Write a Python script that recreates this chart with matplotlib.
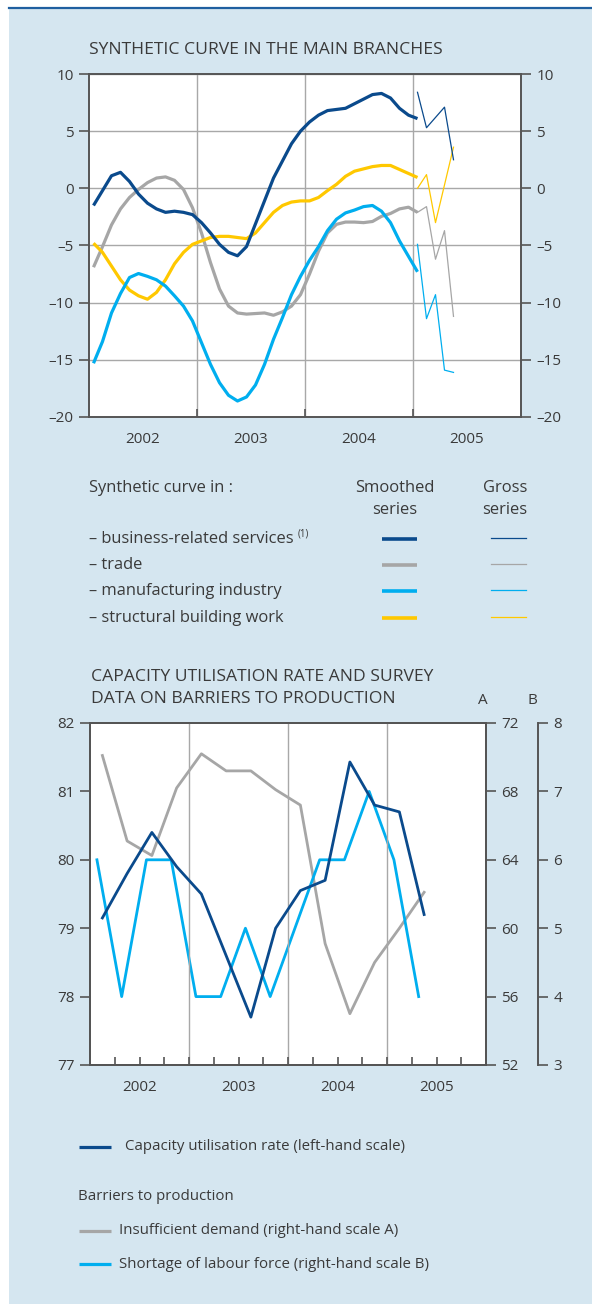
import numpy as np
import matplotlib.pyplot as plt
from matplotlib.lines import Line2D
from matplotlib.patches import Rectangle

plt.rcParams['font.family'] = ['Open Sans', 'DejaVu Sans']

W, H = 592, 1304
TXT = '#3a3a3a'
SPINE = '#555555'
GRID = '#a8a8a8'
BG = '#d5e6f0'
DARK = '#0a4a8c'
GREY = '#a6a6a6'
LIGHT = '#00aeef'
YELLOW = '#ffc800'

# --- synthetic curves, monthly, Jan 2002 - Jan 2005 (smoothed) ---
services = [-1.5, -0.2, 1.1, 1.4, 0.6, -0.5, -1.3, -1.8, -2.1, -2.0, -2.1, -2.3,
            -3.0, -3.9, -4.9, -5.6, -5.9, -5.1, -3.1, -1.1, 0.9, 2.4, 3.9, 5.0,
            5.8, 6.4, 6.8, 6.9, 7.0, 7.4, 7.8, 8.2, 8.3, 7.9, 7.0, 6.4, 6.1]
trade = [-6.9, -5.1, -3.2, -1.8, -0.8, -0.1, 0.5, 0.9, 1.0, 0.7, -0.1, -1.7,
         -3.9, -6.5, -8.8, -10.3, -10.9, -11.0, -10.95, -10.9, -11.1, -10.8, -10.3, -9.3,
         -7.5, -5.5, -3.9, -3.15, -2.95, -2.95, -3.0, -2.9, -2.45, -2.2, -1.8, -1.65, -2.1]
manufacturing = [-15.3, -13.4, -10.9, -9.2, -7.8, -7.45, -7.7, -8.0, -8.55, -9.4, -10.3, -11.6,
                 -13.5, -15.4, -17.0, -18.1, -18.6, -18.25, -17.2, -15.4, -13.2, -11.3, -9.3, -7.7,
                 -6.3, -5.1, -3.7, -2.7, -2.15, -1.9, -1.6, -1.5, -2.0, -3.0, -4.6, -5.95, -7.3]
building = [-4.8, -5.6, -6.8, -8.0, -8.9, -9.4, -9.7, -9.1, -8.0, -6.6, -5.6, -4.9,
            -4.6, -4.3, -4.2, -4.2, -4.3, -4.4, -3.9, -3.0, -2.1, -1.5, -1.2, -1.1,
            -1.1, -0.8, -0.2, 0.35, 1.05, 1.5, 1.7, 1.9, 2.0, 2.0, 1.65, 1.3, 0.95]

# gross series, Jan - May 2005
services_gross = [8.4, 5.3, 6.2, 7.1, 2.5]
trade_gross = [-2.1, -1.6, -6.2, -3.7, -11.2]
manufacturing_gross = [-4.9, -11.4, -9.3, -15.9, -16.1]
building_gross = [0.0, 1.2, -3.0, 0.3, 3.6]

years = [2002, 2003, 2004, 2005]

# --- capacity utilisation & barriers, quarterly Q1 2002 - Q2 2005 ---
capacity = [79.15, 79.8, 80.4, 79.9, 79.5, 78.6, 77.7, 79.0, 79.55, 79.7, 81.43, 80.8, 80.7, 79.2]
demand = [70.1, 65.1, 64.25, 68.2, 70.2, 69.2, 69.2, 68.1, 67.2, 59.1, 55.0, 58.0, 60.0, 62.1]
labour = [6, 4, 6, 6, 4, 4, 5, 4, 5, 6, 6, 7, 6, 4]

series_names = ['– business-related services', '– trade', '– manufacturing industry',
                '– structural building work']

FS_TICK = 11
FS_TITLE = 12.6
FS_LEG = 11.9
FS_LEG2 = 10.8


def fx(px):
    return px / W


def fy(py):
    return 1 - py / H


def dash(v):
    return str(v).replace('-', '\u2013')


fig = plt.figure(figsize=(W / 100, H / 100), dpi=100)
fig.patch.set_facecolor('white')
fig.add_artist(Rectangle((fx(9), 0), 1 - fx(9), fy(8), transform=fig.transFigure,
                         facecolor=BG, edgecolor='none', zorder=-10))
fig.add_artist(Line2D([fx(9), 1], [fy(8), fy(8)], transform=fig.transFigure,
                      color='#1f5fa0', lw=1.6))

# ================= top chart =================
ax = fig.add_axes([fx(89), fy(417), fx(521) - fx(89), (417 - 74) / H])
ax.set_facecolor('white')
xm = 2002 + (np.arange(len(services)) + 0.5) / 12
xg = 2005 + (np.arange(len(services_gross)) + 0.5) / 12

for vals, gross, col in [(trade, trade_gross, GREY), (building, building_gross, YELLOW),
                         (manufacturing, manufacturing_gross, LIGHT),
                         (services, services_gross, DARK)]:
    ax.plot(xm, vals, color=col, lw=2.3, solid_capstyle='butt', zorder=3)
    ax.plot(xg, gross, color=col, lw=0.9, zorder=3)

ax.set_xlim(2002, 2006)
ax.set_ylim(-20, 10)
ax.set_yticks(range(-20, 11, 5))
ax.set_yticklabels([dash(v) for v in range(-20, 11, 5)])
ax.set_xticks([2003, 2004, 2005])
ax.set_xticklabels([])
ax.set_xticks([y + 0.5 for y in years], [str(y) for y in years], minor=True)
ax.grid(True, which='major', color=GRID, lw=1.0, zorder=1)
ax.tick_params(axis='x', which='major', direction='in', length=6, color=SPINE, width=1.2)
ax.tick_params(axis='x', which='minor', length=0, pad=11, labelsize=FS_TICK, labelcolor=TXT)
ax.tick_params(axis='y', direction='out', length=7, width=1.2, color=SPINE,
               right=True, labelright=True, labelsize=FS_TICK, labelcolor=TXT, pad=4)
for s in ax.spines.values():
    s.set_color(SPINE)
    s.set_linewidth(1.4)

fig.text(fx(89), fy(50), 'SYNTHETIC CURVE IN THE MAIN BRANCHES', fontsize=FS_TITLE,
         color=TXT, va='center', ha='left')

# legend block
fig.text(fx(89), fy(488), 'Synthetic curve in :', fontsize=FS_LEG, color=TXT, va='center')
fig.text(fx(395), fy(488), 'Smoothed', fontsize=FS_LEG, color=TXT, va='center', ha='center')
fig.text(fx(395), fy(510), 'series', fontsize=FS_LEG, color=TXT, va='center', ha='center')
fig.text(fx(505), fy(488), 'Gross', fontsize=FS_LEG, color=TXT, va='center', ha='center')
fig.text(fx(505), fy(510), 'series', fontsize=FS_LEG, color=TXT, va='center', ha='center')
leg_y = [539, 565, 591, 618]
for name, col, py in zip(series_names, [DARK, GREY, LIGHT, YELLOW], leg_y):
    fig.text(fx(89), fy(py), name, fontsize=FS_LEG, color=TXT, va='center')
    fig.add_artist(Line2D([fx(382), fx(417)], [fy(py), fy(py)], transform=fig.transFigure,
                          color=col, lw=2.6, solid_capstyle='butt'))
    fig.add_artist(Line2D([fx(491), fx(526)], [fy(py - 1), fy(py - 1)],
                          transform=fig.transFigure, color=col, lw=0.9))
fig.text(fx(298), fy(534), '(1)', fontsize=7, color=TXT, va='center')

# ================= bottom chart =================
bx = fig.add_axes([fx(90), fy(1065), fx(486) - fx(90), (1065 - 723) / H])
bx.set_facecolor('white')
xq = 2002 + (np.arange(len(capacity)) + 0.5) / 4
xl = 2002 + np.arange(len(labour)) / 4 + 0.07   # survey month early in quarter

ba = bx.twinx()
bb = bx.twinx()
bb.spines['right'].set_position(('axes', 1.131))

ba.plot(xq, demand, color=GREY, lw=2.0, zorder=3)
bb.plot(xl, labour, color=LIGHT, lw=2.0, zorder=3)
bx.plot(xq, capacity, color=DARK, lw=2.0, zorder=3)
bx.set_zorder(ba.get_zorder() + 2)
bx.patch.set_visible(False)
fig.add_artist(Rectangle((fx(90), fy(1065)), fx(486) - fx(90), (1065 - 723) / H,
                         transform=fig.transFigure, facecolor='white', edgecolor='none',
                         zorder=-5))

bx.set_xlim(2002, 2006)
bx.set_ylim(77, 82)
ba.set_ylim(52, 72)
bb.set_ylim(3, 8)
bx.set_yticks(range(77, 83))
ba.set_yticks(range(52, 73, 4))
bb.set_yticks(range(3, 9))
bx.xaxis.remove_overlapping_locs = False
bx.set_xticks(np.arange(2002, 2006.01, 0.25))
bx.set_xticklabels([])
bx.set_xticks([y + 0.5 for y in years], [str(y) for y in years], minor=True)
for y in [2003, 2004, 2005]:
    bx.axvline(y, color=GRID, lw=1.0, zorder=1)
bx.tick_params(axis='x', which='major', direction='in', length=6, color=SPINE, width=1.2)
bx.tick_params(axis='x', which='minor', length=0, pad=11, labelsize=FS_TICK, labelcolor=TXT)
bx.tick_params(axis='y', direction='out', length=7, width=1.2, color=SPINE,
               labelsize=FS_TICK, labelcolor=TXT, pad=4)
for a in (ba, bb):
    a.tick_params(axis='y', direction='out', length=7, width=1.2, color=SPINE,
                  labelsize=FS_TICK, labelcolor=TXT, pad=4)
for s in bx.spines.values():
    s.set_color(SPINE)
    s.set_linewidth(1.4)
for k, s in ba.spines.items():
    s.set_color(SPINE)
    s.set_linewidth(1.4)
for k, s in bb.spines.items():
    s.set_visible(k == 'right')
    s.set_color(SPINE)
    s.set_linewidth(1.4)

fig.text(fx(91), fy(677), 'CAPACITY UTILISATION RATE AND SURVEY', fontsize=FS_TITLE,
         color=TXT, va='center')
fig.text(fx(91), fy(699), 'DATA ON BARRIERS TO PRODUCTION', fontsize=FS_TITLE,
         color=TXT, va='center')
fig.text(fx(483), fy(700), 'A', fontsize=FS_TICK, color=TXT, va='center', ha='center')
fig.text(fx(532), fy(700), 'B', fontsize=FS_TICK, color=TXT, va='center', ha='center')

# bottom legend
bottom_leg = [(DARK, 79, 1147, 125, 'Capacity utilisation rate (left-hand scale)'),
              (GREY, 79, 1231, 119, 'Insufficient demand (right-hand scale A)'),
              (LIGHT, 79, 1264, 119, 'Shortage of labour force (right-hand scale B)')]
for col, x0, py, tx, label in bottom_leg:
    fig.add_artist(Line2D([fx(x0), fx(x0 + 32)], [fy(py), fy(py)], transform=fig.transFigure,
                          color=col, lw=2.3, solid_capstyle='butt'))
    fig.text(fx(tx), fy(py), label, fontsize=FS_LEG2, color=TXT, va='center')
fig.text(fx(78), fy(1196), 'Barriers to production', fontsize=FS_LEG2, color=TXT, va='center')

fig.savefig('out.png', dpi=100, facecolor=fig.get_facecolor())
